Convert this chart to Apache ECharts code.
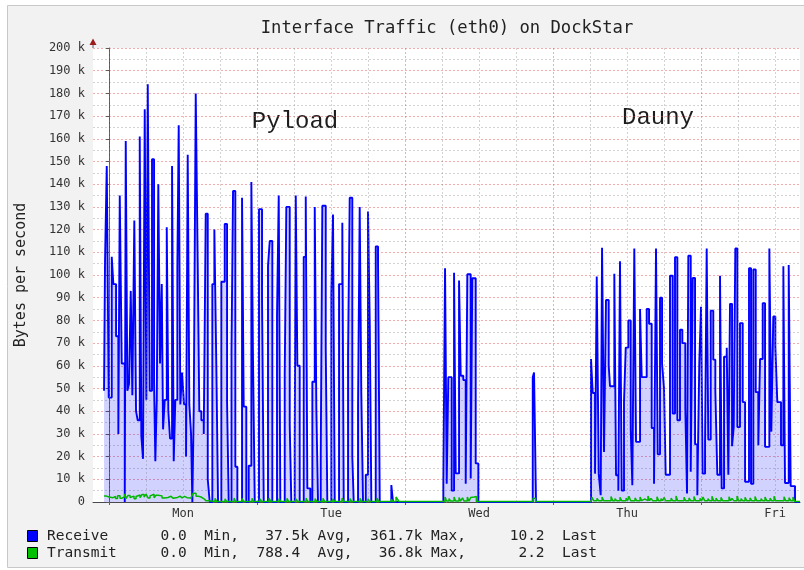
<!DOCTYPE html>
<html>
<head>
<meta charset="utf-8">
<title>Interface Traffic (eth0) on DockStar</title>
<script src="https://cdn.jsdelivr.net/npm/echarts@6/dist/echarts.min.js"></script>
<style>
  html, body { margin: 0; padding: 0; background: #fff; }
  #chart { width: 804px; height: 570px; }
</style>
</head>
<body>
<div id="chart"></div>
<script>
// time = hours since Monday 00:00, value = k bytes/s ; each point holds until the next one
const rxMon = [
  [-0.81, 49], [-0.65, 106], [-0.37, 148], [-0.05, 46], [0.44, 108], [0.70, 96], [1.14, 73], [1.51, 30],
  [1.74, 135], [2.06, 61], [2.55, 0], [2.71, 159], [2.97, 49], [3.24, 52], [3.52, 93], [3.78, 47],
  [4.10, 124], [4.38, 40], [4.65, 36], [4.98, 161], [5.24, 29], [5.51, 19], [5.79, 173], [6.05, 45],
  [6.28, 184], [6.60, 49], [6.97, 151], [7.30, 53], [7.51, 18], [7.74, 45], [7.99, 140], [8.27, 61],
  [8.55, 96], [8.76, 32], [9.03, 45], [9.36, 121], [9.62, 40], [9.89, 28], [10.22, 148], [10.49, 18],
  [10.75, 45], [11.08, 104], [11.30, 166], [11.56, 43], [11.84, 57], [12.16, 43], [12.49, 20], [12.76, 153],
  [13.02, 43], [13.30, 30], [13.51, 0], [13.74, 42], [14.06, 180], [14.38, 105], [14.64, 40], [14.97, 36],
  [15.36, 30], [15.68, 127], [16.01, 10], [16.33, 0]
];
const rxTue = [
  [16.75, 96], [17.08, 120], [17.40, 60], [17.68, 0],
  [18.21, 97], [18.76, 122.5], [19.14, 44], [19.41, 0],
  [19.86, 67], [20.11, 137], [20.48, 15.5], [20.81, 0],
  [21.57, 134], [21.84, 42], [22.26, 0],
  [22.65, 16], [23.08, 141], [23.35, 62], [23.63, 0],
  [24.32, 129], [24.81, 90], [25.09, 0],
  [25.78, 104], [26.06, 115], [26.48, 0],
  [27.24, 82], [27.52, 135], [27.78, 0],
  [28.49, 56], [28.75, 130], [29.30, 34], [29.56, 0],
  [30.11, 25], [30.28, 135], [30.54, 60], [30.92, 0],
  [31.57, 108], [31.90, 134.6], [32.16, 6], [32.64, 0],
  [32.97, 53], [33.36, 130], [33.62, 41], [33.89, 0],
  [34.33, 20], [34.59, 130.5], [35.14, 68], [35.40, 0],
  [36.05, 92], [36.32, 126.6], [36.60, 0],
  [37.30, 96], [37.83, 123], [38.06, 0],
  [38.76, 65], [39.03, 134], [39.45, 20], [39.68, 0],
  [40.38, 42], [40.65, 130], [40.91, 48], [41.19, 0],
  [41.63, 12], [42.00, 128], [42.28, 78.5], [42.54, 0],
  [43.25, 112.6], [43.62, 106.8], [43.90, 0],
  [45.78, 7.5], [46.05, 0]
];
const rxWed = [
  [54.21, 7], [54.49, 103], [54.76, 8], [55.02, 55], [55.57, 5], [55.95, 101], [56.22, 12.6], [56.76, 97.6],
  [57.03, 55.6], [57.45, 53.7], [57.84, 8], [58.10, 100.3], [58.65, 10.4], [58.91, 98.6], [59.46, 17], [59.89, 0],
  [68.71, 55], [68.92, 57], [69.24, 0]
];
const rxThu = [
  [78.16, 63], [78.44, 48], [78.81, 12.5], [79.09, 99.3], [79.41, 12.5], [79.73, 3], [79.95, 112], [80.27, 22],
  [80.59, 89], [81.03, 60], [81.24, 51], [81.94, 100.5], [82.22, 11.8], [82.59, 5], [82.86, 106], [83.14, 5],
  [83.51, 44], [83.79, 68], [84.21, 80], [84.60, 32], [84.86, 7.4], [85.18, 111.7], [85.46, 26.5], [86.11, 85],
  [86.38, 55], [87.19, 85], [87.57, 78.5], [88.00, 32.6], [88.38, 8], [88.70, 111.7], [88.98, 21], [89.35, 90],
  [89.68, 61], [90.00, 50], [90.27, 12], [90.97, 99.7], [91.41, 39], [91.78, 107.8], [92.16, 36], [92.59, 75.9],
  [92.97, 70], [93.45, 41.6], [93.73, 3.8], [93.94, 108.5], [94.33, 13.3], [94.65, 98.7], [95.03, 25.4], [95.40, 3]
];
const rxFri = [
  [95.72, 61.6], [96.00, 86], [96.27, 12.5], [96.65, 25.7], [96.92, 111.7], [97.18, 27.5], [97.57, 84.3], [97.99, 62.7],
  [98.32, 49], [98.64, 12], [99.08, 99.7], [99.35, 6], [99.73, 64], [100.17, 68], [100.43, 12], [100.70, 87.3],
  [101.03, 24.6], [101.30, 33], [101.56, 111.7], [101.89, 33], [102.32, 78.8], [102.76, 44], [103.14, 8.9], [103.78, 103],
  [104.11, 8], [104.48, 102.4], [104.87, 48.4], [105.29, 25], [105.57, 63], [106.00, 87.6], [106.38, 24.3], [107.08, 111.7],
  [107.40, 31], [107.72, 81.7], [108.05, 68.7], [108.37, 44], [108.97, 25], [109.35, 103.8], [109.62, 8.4], [110.22, 104.4],
  [110.54, 7], [111.24, 0], [112.05, 0]
];

const txMon = [
  [-0.81, 2.6], [-0.41, 2.2], [0, 2.8], [0.32, 1.9], [0.65, 2.4], [1.05, 1.5], [1.38, 2.7], [1.78, 1.7],
  [2.11, 2.3], [2.55, 3.6], [2.76, 1.5], [3.08, 2.9], [3.41, 2.0], [3.73, 2.6], [4.05, 1.4], [4.38, 2.4],
  [4.70, 3.1], [5.03, 1.9], [5.35, 3.3], [5.68, 2.2], [6.00, 3.5], [6.32, 1.8], [6.65, 2.7], [6.97, 3.4],
  [7.30, 1.9], [7.62, 3.0], [7.95, 2.4], [8.27, 2.7], [8.59, 1.8], [8.92, 2.6], [9.24, 2.0], [9.57, 2.5],
  [10.05, 1.7], [10.38, 2.4], [10.70, 2.0], [11.11, 2.6], [11.51, 1.8], [11.84, 2.5], [12.24, 1.9], [12.65, 2.4],
  [12.97, 1.8], [13.30, 2.3], [13.62, 3.8], [14.11, 2.5], [14.51, 2.2], [14.92, 1.4], [15.41, 1.0], [15.73, 0.5],
  [16.14, 0.2]
];
const txTue = [
  [17.19, 1.6], [17.46, 0.2], [18.81, 1.4], [19.08, 0.2], [20.27, 1.7], [20.54, 0.2], [21.57, 1.5], [21.84, 0.2],
  [23.19, 1.6], [23.46, 0.2], [24.49, 1.4], [24.76, 0.2], [25.95, 1.7], [26.22, 0.2], [27.57, 1.5], [27.84, 0.2],
  [28.86, 1.6], [29.13, 0.2], [30.32, 1.4], [30.60, 0.2], [31.95, 1.7], [32.22, 0.2], [33.41, 1.5], [33.68, 0.2],
  [34.70, 1.6], [34.97, 0.2], [36.32, 1.4], [36.60, 0.2], [37.78, 1.7], [38.06, 0.2], [39.08, 1.5], [39.35, 0.2],
  [40.70, 1.6], [40.97, 0.2], [42.00, 1.4], [42.27, 0.2], [43.46, 1.7], [43.73, 0.2], [45.78, 1.2], [46.05, 0.2],
  [46.54, 2.2], [46.78, 1.2], [47.03, 0.2]
];
const txWed = [
  [54.49, 2.2], [54.73, 0.4], [55.14, 1.5], [55.38, 0.4], [55.95, 2.2], [56.19, 0.4], [56.76, 2.0], [57.00, 0.4],
  [57.32, 1.8], [57.57, 0.4], [58.10, 2.2], [58.38, 0.4], [58.65, 2.0], [58.91, 2.2], [59.19, 2.4], [59.57, 0.2],
  [68.76, 1.6], [69.16, 0.2]
];
const txThu = [
  [78.16, 0.6], [78.32, 2.0], [78.58, 0.6], [79.13, 1.6], [79.39, 0.6], [79.95, 2.2], [80.21, 0.6], [80.76, 1.4],
  [81.02, 0.6], [81.41, 2.4], [81.67, 0.6], [82.05, 1.5], [82.31, 0.6], [82.86, 2.1], [83.12, 0.6], [83.84, 1.7],
  [84.10, 0.6], [84.32, 2.5], [84.58, 0.6], [85.30, 1.8], [85.56, 0.6], [86.11, 2.2], [86.37, 0.6], [86.59, 1.3],
  [86.85, 0.6], [87.40, 2.6], [87.66, 0.6], [87.89, 1.6], [88.15, 0.6], [88.86, 2.3], [89.12, 0.6], [89.51, 1.5],
  [89.77, 0.6], [90.00, 2.0], [90.26, 0.6], [91.14, 1.7], [91.40, 0.6], [91.95, 2.6], [92.21, 0.6], [92.76, 1.4],
  [93.02, 0.6], [93.24, 2.1], [93.50, 0.6], [94.05, 1.8], [94.31, 0.6], [94.86, 2.4], [95.12, 0.6], [95.84, 1.6],
  [96.10, 0.6]
];
const txFri = [
  [96.32, 2.2], [96.58, 0.6], [97.13, 1.5], [97.39, 0.6], [97.78, 2.5], [98.04, 0.6], [98.43, 1.7], [98.69, 0.6],
  [99.24, 2.0], [99.50, 0.6], [99.89, 1.4], [100.15, 0.6], [100.54, 2.3], [100.80, 0.6], [101.03, 1.6], [101.29, 0.6],
  [101.84, 2.6], [102.10, 0.6], [102.49, 1.5], [102.75, 0.6], [103.14, 2.1], [103.40, 0.6], [103.95, 1.8], [104.21, 0.6],
  [104.76, 2.4], [105.02, 0.6], [105.73, 1.5], [105.99, 0.6], [106.38, 2.2], [106.64, 0.6], [107.19, 1.7], [107.45, 0.6],
  [107.84, 2.5], [108.10, 0.6], [108.49, 1.4], [108.75, 0.6], [109.46, 2.3], [109.72, 0.6], [110.27, 1.9], [110.53, 0.6],
  [110.92, 2.2], [111.18, 0.2], [112.05, 0.2]
];

const dayNames = ['Mon', 'Tue', 'Wed', 'Thu', 'Fri'];
const dayNoon = [12, 36, 60, 84, 108];
const midnights = [0, 24, 48, 72, 96];
const sixHours = [6, 12, 18, 30, 36, 42, 54, 60, 66, 78, 84, 90, 102, 108];

const legendRows = [
  'Receive      0.0  Min,   37.5k Avg,  361.7k Max,     10.2  Last',
  'Transmit     0.0  Min,  788.4  Avg,   36.8k Max,      2.2  Last'
];

const mono = 'DejaVu Sans Mono';
const redGrid = 'rgba(235, 70, 70, 0.45)';
const grayGrid = 'rgba(130, 130, 130, 0.35)';

const chart = echarts.init(document.getElementById('chart'));
chart.setOption({
  backgroundColor: '#ffffff',
  animation: false,
  grid: {
    left: 93, right: 4, top: 48, bottom: 68,
    show: true, backgroundColor: '#ffffff', borderWidth: 0
  },
  graphic: [
    { type: 'rect', z: -100, shape: { x: 7.5, y: 5.5, width: 797, height: 562 },
      style: { fill: '#f2f2f2', stroke: '#c8c8c8', lineWidth: 1 } },
    { type: 'text', x: 447, y: 29,
      style: { text: 'Interface Traffic (eth0) on DockStar', fontFamily: mono, fontSize: 17.2,
        fill: '#222', textAlign: 'center', textVerticalAlign: 'middle' } },
    { type: 'line', shape: { x1: 93, y1: 48, x2: 93, y2: 43 }, style: { stroke: '#5a5a5a', lineWidth: 1 } },
    { type: 'polygon', shape: { points: [[89.5, 45], [96.5, 45], [93, 38.5]] }, style: { fill: '#9b1c1c' } },
    { type: 'text', x: 295, y: 122,
      style: { text: 'Pyload', fontFamily: 'Liberation Mono', fontSize: 24, fill: '#1c1c1c',
        textAlign: 'center', textVerticalAlign: 'middle' } },
    { type: 'text', x: 658, y: 118,
      style: { text: 'Dauny', fontFamily: 'Liberation Mono', fontSize: 24, fill: '#1c1c1c',
        textAlign: 'center', textVerticalAlign: 'middle' } },
    { type: 'rect', shape: { x: 27.5, y: 530.5, width: 10, height: 11 },
      style: { fill: '#0000ff', stroke: '#000', lineWidth: 1 } },
    { type: 'rect', shape: { x: 27.5, y: 547.5, width: 10, height: 11 },
      style: { fill: '#00c000', stroke: '#000', lineWidth: 1 } },
    { type: 'text', x: 47, y: 536,
      style: { text: legendRows[0], fontFamily: mono, fontSize: 14.5, fill: '#222', textVerticalAlign: 'middle' } },
    { type: 'text', x: 47, y: 553,
      style: { text: legendRows[1], fontFamily: mono, fontSize: 14.5, fill: '#222', textVerticalAlign: 'middle' } }
  ],
  xAxis: {
    type: 'value',
    min: -2.6,
    max: 112.05,
    axisLine: { lineStyle: { color: '#4a4a4a', width: 1 } },
    axisTick: { show: true, customValues: midnights, length: 3, lineStyle: { color: '#b04040' } },
    axisLabel: {
      customValues: dayNoon,
      formatter: v => dayNames[dayNoon.indexOf(v)],
      fontFamily: mono, fontSize: 12, color: '#333', margin: 6
    },
    splitLine: { show: false }
  },
  yAxis: {
    type: 'value',
    min: 0,
    max: 200,
    interval: 10,
    name: 'Bytes per second',
    nameLocation: 'middle',
    nameGap: 64,
    nameRotate: 90,
    nameTextStyle: { fontFamily: mono, fontSize: 15, color: '#222' },
    axisLine: { show: true, lineStyle: { color: '#5a5a5a', width: 1 } },
    axisTick: { show: true, length: 3, lineStyle: { color: '#5a5a5a' } },
    axisLabel: {
      formatter: v => (v === 0 ? '0' : v + ' k'),
      fontFamily: mono, fontSize: 12, color: '#333', margin: 8
    },
    splitLine: { show: true, lineStyle: { color: redGrid, type: [2, 2], width: 1 } },
    minorTick: { show: false, splitNumber: 2 },
    minorSplitLine: { show: true, lineStyle: { color: grayGrid, type: [2, 2], width: 1 } }
  },
  series: [
    {
      name: 'grid',
      type: 'line',
      data: [],
      silent: true,
      z: 1,
      markLine: {
        silent: true,
        symbol: 'none',
        label: { show: false },
        animation: false,
        data: midnights.map(v => ({ xAxis: v, lineStyle: { color: redGrid, type: [2, 2], width: 1 } }))
          .concat(sixHours.map(v => ({ xAxis: v, lineStyle: { color: grayGrid, type: [2, 2], width: 1 } })))
      }
    },
    {
      name: 'Receive',
      type: 'line',
      step: 'end',
      z: 3,
      symbol: 'none',
      data: rxMon.concat(rxTue, rxWed, rxThu, rxFri),
      lineStyle: { color: '#0000ff', width: 1.9 },
      areaStyle: { color: 'rgba(0, 0, 255, 0.25)' }
    },
    {
      name: 'Transmit',
      type: 'line',
      step: 'end',
      z: 4,
      symbol: 'none',
      data: txMon.concat(txTue, txWed, txThu, txFri),
      lineStyle: { color: '#00b800', width: 1.5 }
    }
  ]
});
</script>
</body>
</html>
